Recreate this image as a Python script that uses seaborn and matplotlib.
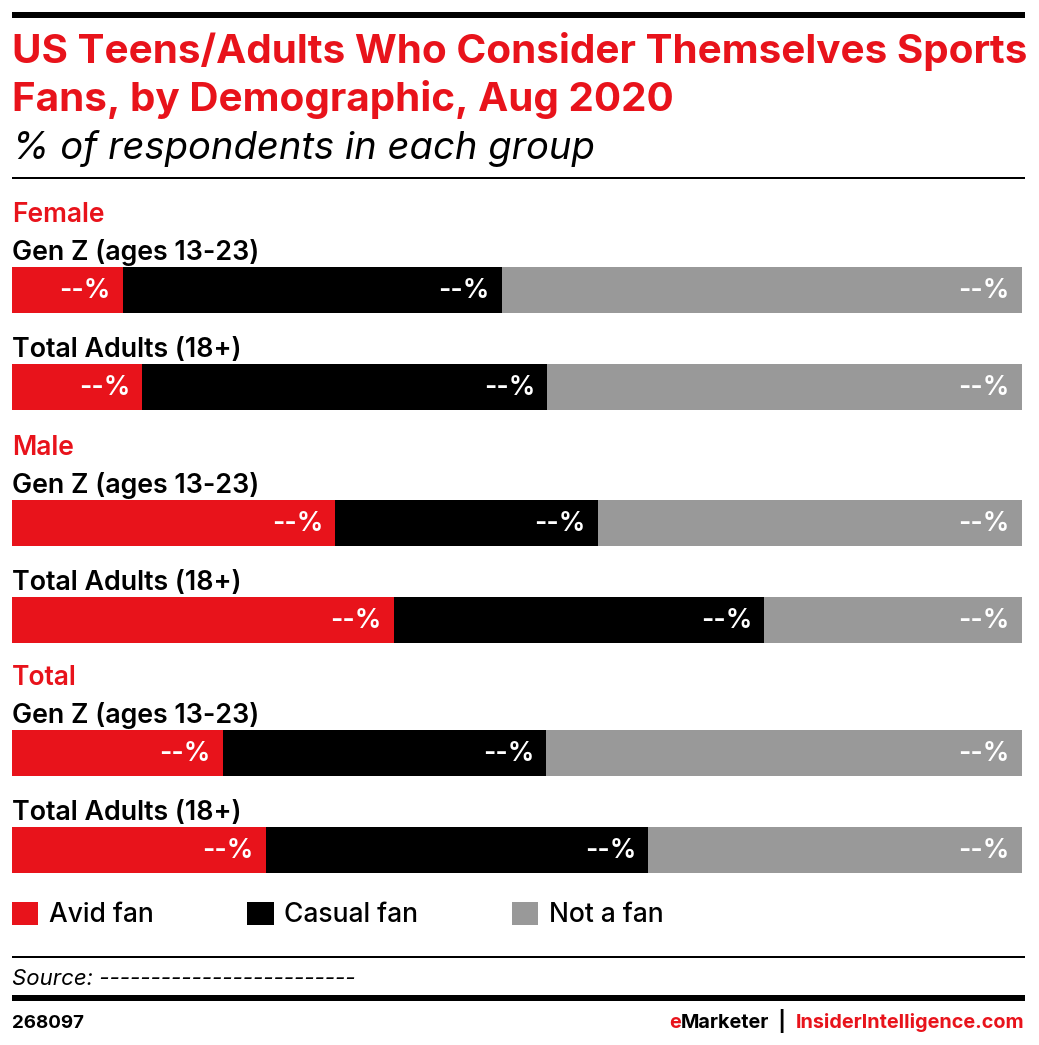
import numpy as np
import pandas as pd
import seaborn as sns
import matplotlib.pyplot as plt
from matplotlib.patches import Patch, Rectangle

# Dados
groups = ["Female", "Male", "Total"]
rows = ["Gen Z (ages 13-23)", "Total Adults (18+)"]
segments = ["Avid fan", "Casual fan", "Not a fan"]
avid = [11.0, 12.9, 32.0, 37.8, 20.9, 25.1]
casual = [37.5, 40.1, 26.0, 36.7, 32.0, 37.9]
not_fan = [51.5, 47.0, 42.0, 25.5, 47.1, 37.0]
value_labels = ["--%"] * 6

RED = "#e8131b"
GRAY = "#999999"
colors = [RED, "black", GRAY]

W, H = 1039, 1045
FONT = "Inter"

sns.set_theme(style="white")
plt.rcParams["font.family"] = [FONT, "DejaVu Sans"]
plt.rcParams["text.color"] = "black"

fig = plt.figure(figsize=(W / 100, H / 100), dpi=100)


def fy(py):
    return 1 - py / H


def fx(px):
    return px / W


def hline(y0, y1, x0=12, x1=1025):
    fig.add_artist(Rectangle((fx(x0), fy(y1)), fx(x1) - fx(x0), fy(y0) - fy(y1),
                             transform=fig.transFigure, color="black", lw=0))


# Cabeçalho
hline(12, 18)
fig.text(fx(12), fy(63), "US Teens/Adults Who Consider Themselves Sports", color=RED,
         fontsize=29.1, fontweight="bold", va="baseline")
fig.text(fx(12), fy(111), "Fans, by Demographic, Aug 2020", color=RED,
         fontsize=29.1, fontweight="bold", va="baseline")
fig.text(fx(12), fy(159), "% of respondents in each group", color="black",
         fontsize=27.5, fontstyle="italic", va="baseline")
hline(177, 179)

# Barras empilhadas, um eixo por grupo
centers = [290, 523, 753]
unit = 97
for g, group in enumerate(groups):
    sl = slice(2 * g, 2 * g + 2)
    df = pd.DataFrame({
        "row": rows,
        "avid": avid[sl],
        "casual": casual[sl],
        "not_fan": not_fan[sl],
    })
    df["c1"] = df["avid"]
    df["c2"] = df["avid"] + df["casual"]
    df["c3"] = df["c2"] + df["not_fan"]

    top = centers[g] - 1.0 * unit
    bottom = centers[g] + unit + 0.3 * unit
    ax = fig.add_axes([fx(12), fy(bottom), fx(1022) - fx(12), fy(top) - fy(bottom)])
    for col, c in zip(["c3", "c2", "c1"], colors[::-1]):
        sns.barplot(data=df, x=col, y="row", orient="h", color=c, saturation=1,
                    width=0.474, ax=ax, linewidth=0)
    ax.set_xlim(0, 100)
    ax.set_ylim(1.3, -1.0)
    ax.axis("off")

    ax.text(0, -0.70, group, color=RED, fontsize=19, fontweight="semibold",
            va="baseline", ha="left")
    for i, r in enumerate(rows):
        ax.text(0, i - 0.31, r, color="black", fontsize=19.3, fontweight="semibold",
                va="baseline", ha="left")
        for col in ["c1", "c2", "c3"]:
            ax.text(df[col][i] - 1.2, i + 0.01, value_labels[2 * g + i], color="white",
                    fontsize=19, fontweight="semibold", va="center", ha="right")

# Legenda
handles = [Patch(facecolor=c, edgecolor="none") for c in colors]
fig.legend(handles, segments, loc="center left", bbox_to_anchor=(fx(12), fy(915)),
           ncol=3, frameon=False, handlelength=1.0, handleheight=1.0,
           handletextpad=0.4, columnspacing=3.55, borderaxespad=0, borderpad=0,
           labelcolor="black", prop={"weight": "medium", "size": 19})

# Rodapé
hline(956, 958)
fig.text(fx(12), fy(985), "Source: -------------------------", fontsize=16,
         fontstyle="italic", va="baseline")
hline(995, 1001)
fig.text(fx(12), fy(1028), "268097", fontsize=13.5, fontweight="bold", va="baseline")

renderer = fig.canvas.get_renderer()
x = fx(1024)
for txt, c in [("InsiderIntelligence.com", RED), ("  |  ", "black"),
               ("Marketer", "black"), ("e", RED)]:
    t = fig.text(x, fy(1028), txt, color=c, fontsize=14.3, fontweight="bold",
                 va="baseline", ha="right")
    bb = t.get_window_extent(renderer)
    x -= bb.width / W

fig.savefig("out.png", dpi=100)
